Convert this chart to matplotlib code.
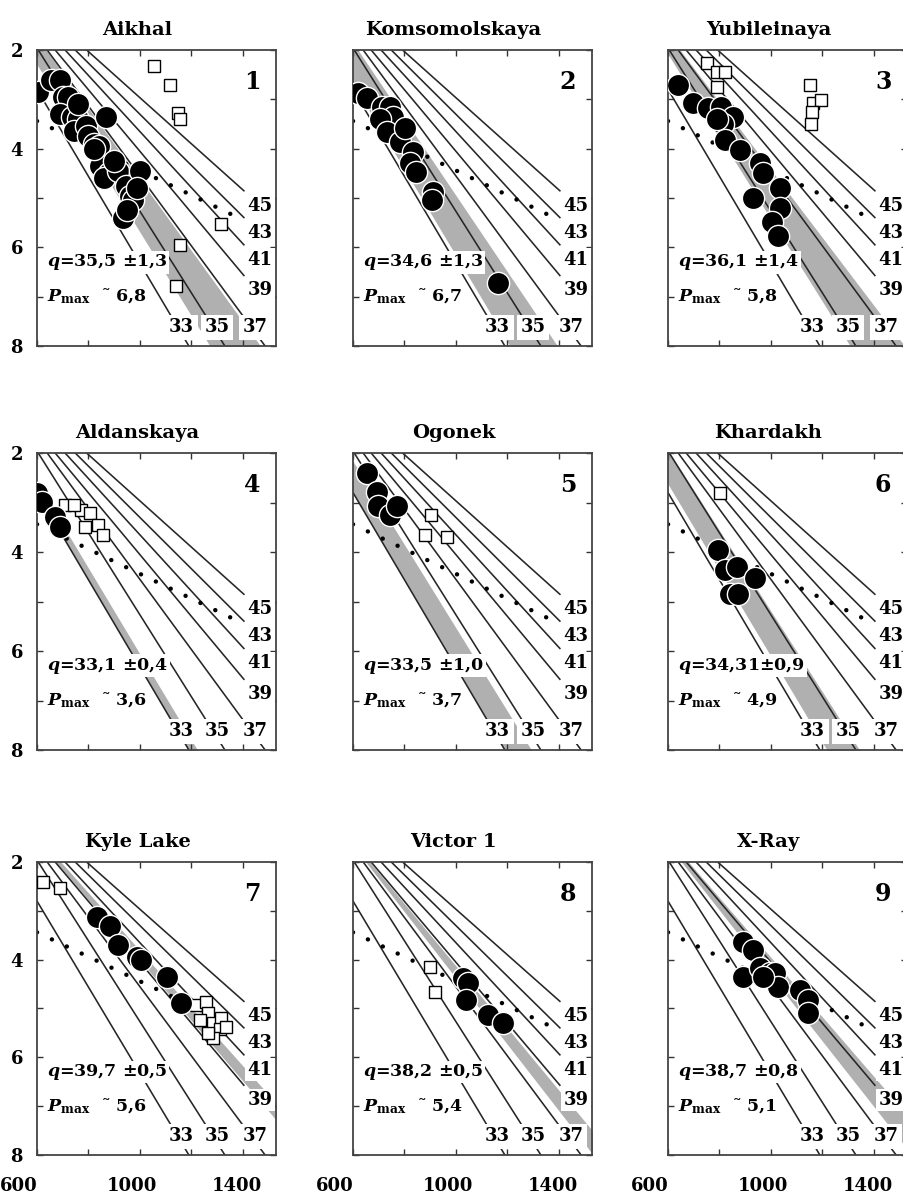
import numpy as np
import matplotlib
matplotlib.use('Agg')
import matplotlib.pyplot as plt
from matplotlib.transforms import ScaledTranslation

plt.rcParams['font.family'] = ['DejaVu Serif']
plt.rcParams['font.weight'] = 'bold'
plt.rcParams['mathtext.fontset'] = 'custom'
plt.rcParams['mathtext.it'] = 'DejaVu Serif:italic:bold'
plt.rcParams['mathtext.rm'] = 'DejaVu Serif:bold'
plt.rcParams['mathtext.bf'] = 'DejaVu Serif:bold'

# ---------------- model geotherms (q in mW/m2), P in GPa at T=600 and T=1400 C
geo_q = [33, 35, 37, 39, 41, 43, 45]
geo_p600 = [2.80, 1.96, 1.72, 1.56, 1.38, 1.23, 1.10]
geo_p1400 = [9.84, 8.57, 7.38, 6.54, 5.92, 5.37, 4.83]
# graphite-diamond boundary
gd_t = [600, 1400]
gd_p = [3.44, 5.44]

# ---------------- panels
names = ['Aikhal', 'Komsomolskaya', 'Yubileinaya', 'Aldanskaya', 'Ogonek',
         'Khardakh', 'Kyle Lake', 'Victor 1', 'X-Ray']
q_mean = [35.5, 34.6, 36.1, 33.1, 33.5, 34.31, 39.7, 38.2, 38.7]
q_err = [1.3, 1.3, 1.4, 0.4, 1.0, 0.9, 0.5, 0.5, 0.8]
q_text = ['35,5 ±1,3', '34,6 ±1,3', '36,1 ±1,4', '33,1 ±0,4', '33,5 ±1,0',
          '34,31±0,9', '39,7 ±0,5', '38,2 ±0,5', '38,7 ±0,8']
p_max_text = ['6,8', '6,7', '5,8', '3,6', '3,7', '4,9', '5,6', '5,4', '5,1']

# filled circles (T, P) and open squares (T, P)
aikhal_c_t = [603, 655, 690, 700, 722, 690, 735, 760, 745, 790, 800, 820, 840, 870, 760,
              845, 880, 860, 915, 945, 960, 1000, 975, 990, 935, 950, 820, 900]
aikhal_c_p = [2.85, 2.60, 2.60, 2.95, 2.95, 3.30, 3.35, 3.40, 3.65, 3.55, 3.75, 3.90, 3.95, 3.35, 3.10,
              4.35, 4.50, 4.60, 4.45, 4.75, 4.95, 4.45, 5.05, 4.80, 5.40, 5.25, 4.00, 4.25]
aikhal_s_t = [1056, 1118, 1149, 1155, 1315, 1157, 1140]
aikhal_s_p = [2.32, 2.71, 3.28, 3.39, 5.53, 5.95, 6.78]

komsom_c_t = [621, 653, 711, 744, 757, 705, 731, 783, 802, 834, 821, 847, 912, 906, 1164]
komsom_c_p = [2.88, 2.98, 3.15, 3.15, 3.35, 3.39, 3.66, 3.86, 3.59, 4.06, 4.30, 4.47, 4.87, 5.04, 6.73]
komsom_s_t = []
komsom_s_p = []

yubil_c_t = [640, 698, 757, 808, 854, 815, 821, 880, 957, 970, 1035, 931, 1035, 1003, 1029, 790]
yubil_c_p = [2.71, 3.08, 3.18, 3.15, 3.35, 3.49, 3.82, 4.03, 4.30, 4.50, 4.80, 5.00, 5.20, 5.48, 5.78, 3.40]
yubil_s_t = [750, 790, 820, 790, 1154, 1164, 1197, 1162, 1158]
yubil_s_p = [2.27, 2.45, 2.45, 2.75, 2.71, 3.08, 3.01, 3.25, 3.50]

aldan_c_t = [600, 618, 670, 689]
aldan_c_p = [2.81, 2.98, 3.29, 3.49]
aldan_s_t = [709, 773, 806, 786, 838, 858, 745]
aldan_s_p = [3.05, 3.15, 3.22, 3.49, 3.45, 3.66, 3.05]

ogonek_c_t = [656, 692, 698, 744, 770]
ogonek_c_p = [2.41, 2.78, 3.08, 3.25, 3.08]
ogonek_s_t = [905, 880, 966]
ogonek_s_p = [3.25, 3.66, 3.69]

khard_c_t = [795, 821, 867, 938, 841, 873]
khard_c_p = [3.96, 4.36, 4.30, 4.53, 4.84, 4.84]
khard_s_t = [802]
khard_s_p = [2.81]

kyle_c_t = [832, 883, 916, 990, 1005, 1104, 1162]
kyle_c_p = [3.12, 3.32, 3.70, 3.95, 4.00, 4.35, 4.89]
kyle_s_t = [625, 689, 1220, 1259, 1265, 1233, 1285, 1317, 1311, 1285, 1265, 1337]
kyle_s_p = [2.40, 2.54, 4.93, 4.87, 5.10, 5.24, 5.30, 5.20, 5.41, 5.61, 5.51, 5.37]

victor_c_t = [1028, 1048, 1041, 1126, 1184]
victor_c_p = [4.38, 4.48, 4.83, 5.13, 5.30]
victor_s_t = [899, 918]
victor_s_p = [4.14, 4.66]

xray_c_t = [893, 931, 893, 957, 996, 1016, 1028, 1113, 1145, 1145, 970]
xray_c_p = [3.63, 3.80, 4.35, 4.18, 4.28, 4.28, 4.55, 4.62, 4.83, 5.10, 4.35]
xray_s_t = []
xray_s_p = []

circ_t = [aikhal_c_t, komsom_c_t, yubil_c_t, aldan_c_t, ogonek_c_t, khard_c_t, kyle_c_t, victor_c_t, xray_c_t]
circ_p = [aikhal_c_p, komsom_c_p, yubil_c_p, aldan_c_p, ogonek_c_p, khard_c_p, kyle_c_p, victor_c_p, xray_c_p]
sq_t = [aikhal_s_t, komsom_s_t, yubil_s_t, aldan_s_t, ogonek_s_t, khard_s_t, kyle_s_t, victor_s_t, xray_s_t]
sq_p = [aikhal_s_p, komsom_s_p, yubil_s_p, aldan_s_p, ogonek_s_p, khard_s_p, kyle_s_p, victor_s_p, xray_s_p]


def geo_P(q, T):
    p0 = np.interp(q, geo_q, geo_p600)
    p1 = np.interp(q, geo_q, geo_p1400)
    return p0 + (p1 - p0) * (np.asarray(T, float) - 600.0) / 800.0


def geo_T(q, P):
    p0 = np.interp(q, geo_q, geo_p600)
    p1 = np.interp(q, geo_q, geo_p1400)
    return 600.0 + (P - p0) * 800.0 / (p1 - p0)


W, H = 904, 1196
fig = plt.figure(figsize=(W / 100, H / 100), dpi=100)
col_left = [37, 353, 668]
row_top = [50, 453, 862]
row_h = [296, 297, 293]
ax_w = 239

GRAY = '#b0b0b0'
LINE = '#262626'
wbox = dict(facecolor='white', edgecolor='none', pad=1.0)

for i in range(9):
    r, c = divmod(i, 3)
    ax = fig.add_axes([col_left[c] / W, 1 - (row_top[r] + row_h[r]) / H, ax_w / W, row_h[r] / H])
    ax.set_xlim(600, 1530)
    ax.set_ylim(8, 2)

    # band q +/- err
    tb = np.array([450.0, 1700.0])
    ax.fill_between(tb, geo_P(q_mean[i] - q_err[i], tb), geo_P(q_mean[i] + q_err[i], tb),
                    color=GRAY, lw=0, zorder=1)

    # geotherms
    for q in geo_q:
        if q <= 37:
            t_end = geo_T(q, 8.3)
        else:
            t_end = 1405
        tt = np.array([450.0, t_end])
        ax.plot(tt, geo_P(q, tt), color=LINE, lw=1.15, zorder=2)
        if q <= 37:
            pl = 7.62
            ax.text(geo_T(q, pl) + 15, pl, str(q), fontsize=13, ha='center', va='center',
                    bbox=dict(facecolor='white', edgecolor='none', pad=2.5), zorder=6)
        else:
            ax.text(1468, geo_P(q, 1400) + 0.33, str(q), fontsize=13, ha='center', va='center',
                    bbox=dict(facecolor='white', edgecolor='none', pad=1.5), zorder=6)

    # graphite-diamond dotted line
    ax.plot(gd_t, gd_p, color='black', lw=3.2, linestyle=(0, (0.01, 3.7)),
            dash_capstyle='round', zorder=2.5)

    # data
    if len(sq_t[i]):
        ax.plot(sq_t[i], sq_p[i], 's', ms=8.5, mfc='white', mec='black', mew=1.0,
                ls='none', zorder=3)
    ax.plot(circ_t[i], circ_p[i], 'o', ms=16, mfc='black', mec='white', mew=1.0,
            ls='none', zorder=4)

    # annotation
    ax.text(640, 6.3, r'$q$=' + q_text[i], fontsize=12.5, ha='left', va='center',
            bbox=wbox, zorder=7)
    ax.text(640, 7.0, r'$P_{\rm max}$  ˜ ' + p_max_text[i], fontsize=12.5, ha='left',
            va='center', bbox=wbox, zorder=7)
    ax.text(1437, 2.65, str(i + 1), fontsize=17, ha='center', va='center', zorder=7)

    ax.set_title(names[i], x=0.42, pad=11, fontsize=14, fontweight='bold')

    # ticks
    ax.set_xticks([600, 1000, 1400])
    ax.set_xticks([800, 1200], minor=True)
    ax.set_yticks([2, 4, 6, 8])
    ax.set_yticks([3, 5, 7], minor=True)
    ax.tick_params(which='both', direction='in', top=True, right=True, length=4,
                   width=1.0, color='#333333')
    ax.tick_params(axis='y', pad=10, labelsize=13)
    ax.tick_params(axis='x', pad=16, labelsize=13)
    if c != 0:
        ax.set_yticklabels([])
    if r != 2:
        ax.set_xticklabels([])
    else:
        offs = [-18, -8, -6]
        for lab, o in zip(ax.get_xticklabels(), offs):
            lab.set_transform(lab.get_transform() + ScaledTranslation(o / 100, 0, fig.dpi_scale_trans))
    for sp in ax.spines.values():
        sp.set_color('#444444')
        sp.set_linewidth(1.3)

fig.savefig('out.png', dpi=100)
